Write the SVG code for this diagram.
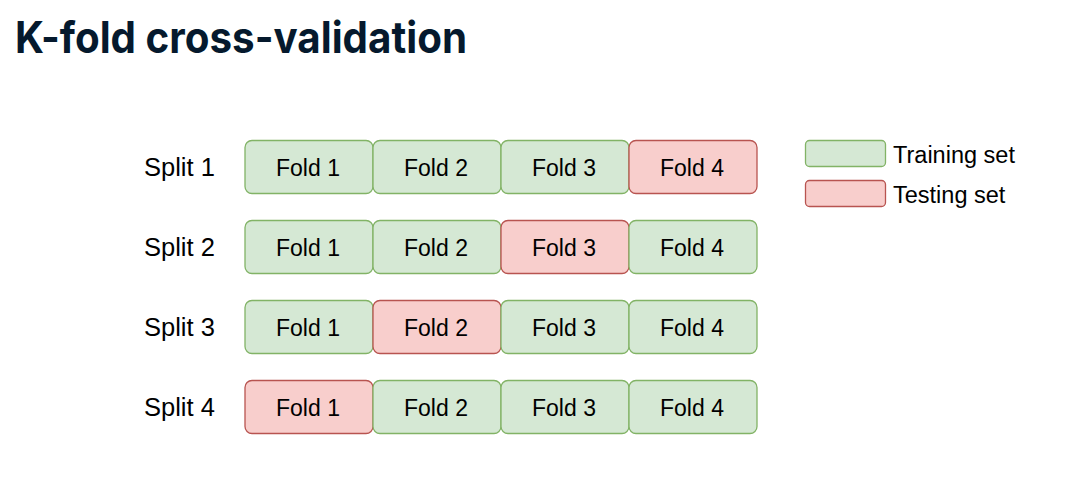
<svg xmlns="http://www.w3.org/2000/svg" width="1069" height="488" viewBox="0 0 1069 488">
<style>
.train{fill:#d5e8d4;stroke:#82b366;stroke-width:1.3}
.test{fill:#f8cecc;stroke:#b85450;stroke-width:1.3}
.fold{font-family:"Liberation Sans",Arial,sans-serif;font-size:23px;fill:#000;text-anchor:middle}
.split{font-family:"Liberation Sans",Arial,sans-serif;font-size:25.5px;fill:#000}
.leg{font-family:"Liberation Sans",Arial,sans-serif;font-size:23.5px;fill:#000}
.title{font-family:Inter,"Open Sans",sans-serif;font-weight:700;font-size:43.5px;fill:#05192d}
</style>
<rect width="1069" height="488" fill="#fff"/>
<text class="title" x="15" y="53.3" textLength="452" lengthAdjust="spacingAndGlyphs">K-fold cross-validation</text>
<g id="connectors"/>
<g id="split1">
<text class="split" x="144" y="176">Split 1</text>
<rect class="train" x="245" y="140.5" width="128" height="53" rx="7"/><text class="fold" x="308" y="176">Fold 1</text>
<rect class="train" x="373" y="140.5" width="128" height="53" rx="7"/><text class="fold" x="436" y="176">Fold 2</text>
<rect class="train" x="501" y="140.5" width="128" height="53" rx="7"/><text class="fold" x="564" y="176">Fold 3</text>
<rect class="test" x="629" y="140.5" width="128" height="53" rx="7"/><text class="fold" x="692" y="176">Fold 4</text>
</g>
<g id="split2">
<text class="split" x="144" y="256">Split 2</text>
<rect class="train" x="245" y="220.5" width="128" height="53" rx="7"/><text class="fold" x="308" y="256">Fold 1</text>
<rect class="train" x="373" y="220.5" width="128" height="53" rx="7"/><text class="fold" x="436" y="256">Fold 2</text>
<rect class="test" x="501" y="220.5" width="128" height="53" rx="7"/><text class="fold" x="564" y="256">Fold 3</text>
<rect class="train" x="629" y="220.5" width="128" height="53" rx="7"/><text class="fold" x="692" y="256">Fold 4</text>
</g>
<g id="split3">
<text class="split" x="144" y="336">Split 3</text>
<rect class="train" x="245" y="300.5" width="128" height="53" rx="7"/><text class="fold" x="308" y="336">Fold 1</text>
<rect class="test" x="373" y="300.5" width="128" height="53" rx="7"/><text class="fold" x="436" y="336">Fold 2</text>
<rect class="train" x="501" y="300.5" width="128" height="53" rx="7"/><text class="fold" x="564" y="336">Fold 3</text>
<rect class="train" x="629" y="300.5" width="128" height="53" rx="7"/><text class="fold" x="692" y="336">Fold 4</text>
</g>
<g id="split4">
<text class="split" x="144" y="416">Split 4</text>
<rect class="test" x="245" y="380.5" width="128" height="53" rx="7"/><text class="fold" x="308" y="416">Fold 1</text>
<rect class="train" x="373" y="380.5" width="128" height="53" rx="7"/><text class="fold" x="436" y="416">Fold 2</text>
<rect class="train" x="501" y="380.5" width="128" height="53" rx="7"/><text class="fold" x="564" y="416">Fold 3</text>
<rect class="train" x="629" y="380.5" width="128" height="53" rx="7"/><text class="fold" x="692" y="416">Fold 4</text>
</g>
<g id="legend-training">
<rect class="train" x="805.5" y="140.5" width="80" height="26" rx="4"/>
<text class="leg" x="893" y="163.3">Training set</text>
</g>
<g id="legend-testing">
<rect class="test" x="805.5" y="180.5" width="80" height="26" rx="4"/>
<text class="leg" x="893" y="202.7">Testing set</text>
</g>
</svg>
